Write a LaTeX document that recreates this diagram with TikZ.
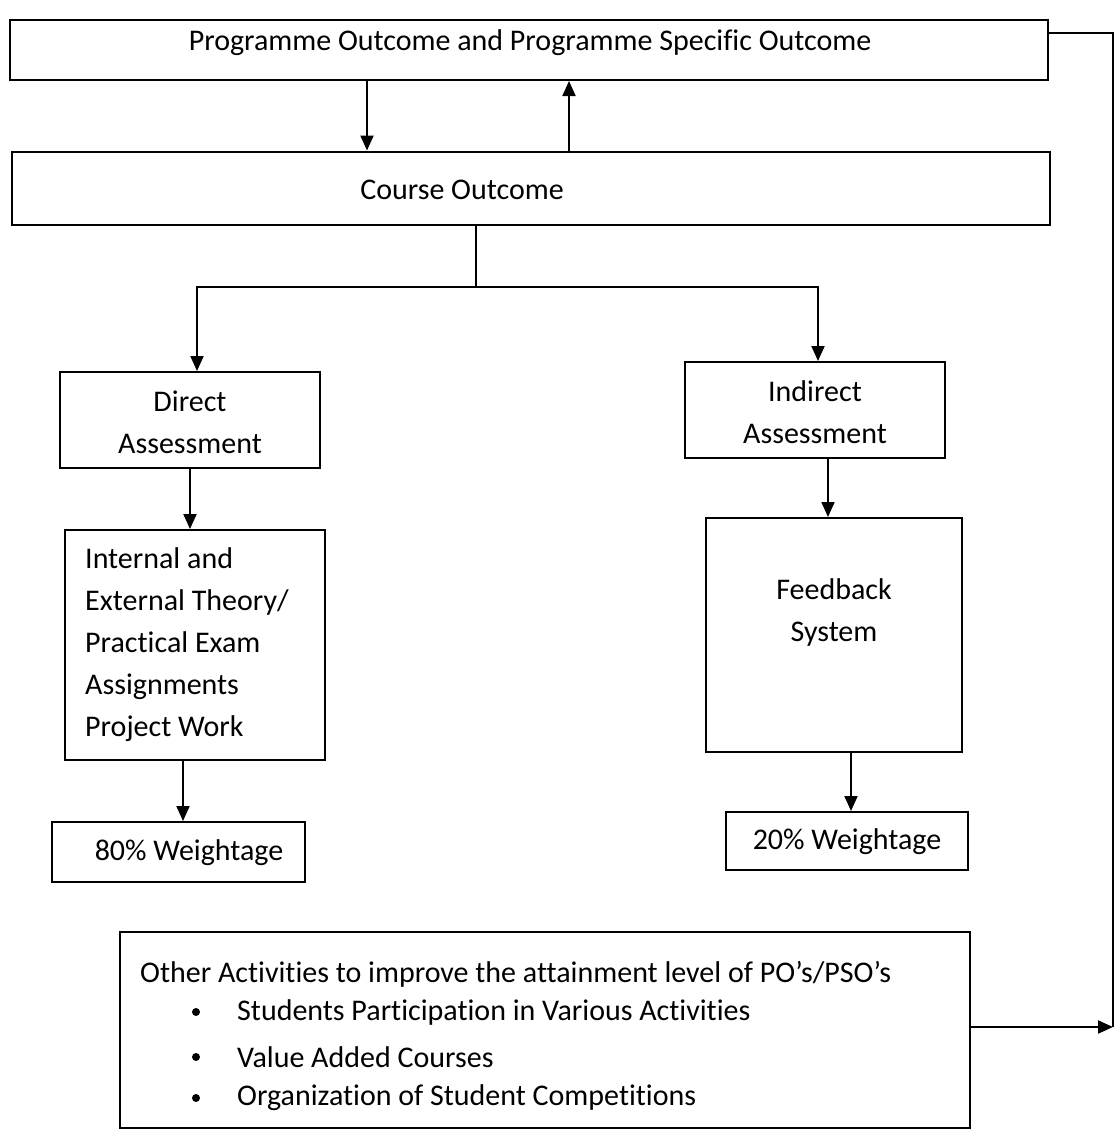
\documentclass[tikz,border=0pt]{standalone}
\usepackage{fontspec}
\setmainfont{Carlito}[Ligatures=NoCommon]
\usetikzlibrary{arrows.meta}
\begin{document}
\begin{tikzpicture}[x=1pt,y=-1pt,
  box/.style={draw, line width=2pt, inner sep=0pt, font=\fontsize{30}{42}\selectfont, align=center},
  txt/.style={inner sep=0pt, font=\fontsize{30}{42}\selectfont},
  arr/.style={line width=2pt, -{Triangle[length=15pt,width=13pt]}},
  ln/.style={line width=2pt}]
\useasboundingbox (0,0) rectangle (1119,1135);
\node[box, minimum width=1038pt, minimum height=60pt] (po) at (529,50) {};
\node[txt] (pot) at (530,43) {Programme Outcome and Programme Specific Outcome};
\node[box, minimum width=1038pt, minimum height=73pt] (co) at (531,188) {};
\node[txt] (cot) at (462,190) {Course Outcome};
\node[box, minimum width=260pt, minimum height=96pt] (da) at (190,420) {};
\node[txt, align=center] (dat) at (190,422) {Direct\\Assessment};
\node[box, minimum width=260pt, minimum height=96pt] (ia) at (815,410) {};
\node[txt, align=center] (iat) at (815,412) {Indirect\\Assessment};
\node[box, minimum width=260pt, minimum height=230pt] (ie) at (195,645) {};
\node[txt, align=left, anchor=west] (iet) at (85,645) {Internal and\\External Theory/\\Practical Exam\\Assignments\\Project Work};
\node[box, minimum width=253pt, minimum height=60pt] (w80) at (178,852) {};
\node[txt] (w80t) at (189,853) {80\% Weightage};
\node[box, minimum width=256pt, minimum height=234pt] (fb) at (834,635) {};
\node[txt, align=center] (fbt) at (834,612) {Feedback\\System};
\node[box, minimum width=242pt, minimum height=58pt] (w20) at (847,841) {};
\node[txt] (w20t) at (847,842) {20\% Weightage};
\node[box, minimum width=850pt, minimum height=196pt] (oa) at (545,1030) {};
\node[txt, anchor=west] (oat) at (140,974) {Other Activities to improve the attainment level of PO’s/PSO’s};
\node[txt, anchor=west] (b1) at (237,1012) {Students Participation in Various Activities};
\node[txt, anchor=west] (b2) at (237,1057) {Value Added Courses};
\node[txt, anchor=west] (b3) at (237,1098) {Organization of Student Competitions};
\foreach \b in {b1,b2,b3} \fill ([xshift=-41pt]\b.west) circle (4pt);
% connectors
\draw[arr] (po.south -| 367,0) -- (co.north -| 367,0);
\draw[arr] (co.north -| 569,0) -- (po.south -| 569,0);
\coordinate (split) at (476,287);
\draw[ln] (co.south -| split) -- (split);
\draw[arr] (split) -| (da.north -| 197,0);
\draw[arr] (split) -| (ia.north -| 818,0);
\draw[arr] (da.south -| 190,0) -- (ie.north -| 190,0);
\draw[arr] (ie.south -| 183,0) -- (w80.north -| 183,0);
\draw[arr] (ia.south -| 828,0) -- (fb.north -| 828,0);
\draw[arr] (fb.south -| 851,0) -- (w20.north -| 851,0);
\coordinate (corner) at (1113,1027);
\draw[ln] (po.east |- 0,33) -| (corner);
\draw[arr] (oa.east |- corner) -- (corner);
\end{tikzpicture}
\end{document}
